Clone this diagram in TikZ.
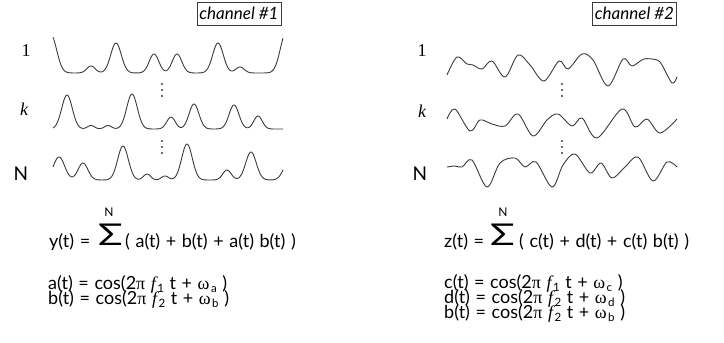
\documentclass[tikz,border=0pt]{standalone}
\usepackage{fontspec}
\setmainfont{Lato}
\newfontfamily\serifx{Liberation Serif}
\definecolor{ink}{HTML}{3A3A3A}
\newcommand{\eqfont}{\fontsize{18}{18}\selectfont\spaceskip 5.6pt plus 1pt\relax}
\begin{document}
\begin{tikzpicture}[x=1pt,y=-1pt,
  declare function={g(\x,\c,\w)=exp(-min(((\x-\c)/\w)^2,9));},
  wave/.style={draw=ink,line width=0.9pt,line join=round},
  chanbox/.style={draw=ink,line width=0.7pt,inner sep=0pt,minimum width=84pt,minimum height=23pt,font=\fontsize{17}{17}\selectfont\itshape},
  rowlab/.style={font=\serifx\fontsize{18}{18}\selectfont},
  nlab/.style={font=\fontsize{19}{19}\selectfont},
  eq/.style={anchor=base west,inner sep=0pt,font=\eqfont},
  sig/.style={anchor=base west,inner sep=0pt,font=\fontsize{30}{30}\selectfont},
  sup/.style={inner sep=0pt,font=\fontsize{12}{12}\selectfont}]
\useasboundingbox (0,0) rectangle (724,343);
\newcommand{\gr}[1]{{\serifx #1}}
\newcommand{\sbx}[1]{\kern1.5pt\lower3.8pt\hbox{\fontsize{11.5}{11.5}\selectfont #1}}
\newcommand{\fx}{{\serifx\itshape f}}
% channel boxes
\node[chanbox] (ch1) at (239,13.5) {channel \#1};
\node[chanbox] (ch2) at (634.5,13.5) {channel \#2};
% row labels
\node[rowlab] (l1) at (26,51) {1};
\node[rowlab,font=\serifx\itshape\fontsize{18}{18}\selectfont] (lk) at (24,109) {k};
\node[nlab] (lN) at (21,174) {N};
\node[rowlab] (r1) at (422,51) {1};
\node[rowlab,font=\serifx\itshape\fontsize{18}{18}\selectfont] (rk) at (422,111) {k};
\node[nlab] (rN) at (420,174) {N};
% channel 1 waves
\draw[wave] plot[domain=53:283,samples=231] (\x,{73-38*g(\x,51,8)-7*g(\x,91,6)-30*g(\x,116,7.5)-19*g(\x,154,6.8)-19*g(\x,177,6.8)-30*g(\x,218,7.5)-6*g(\x,240,6)-40*g(\x,286,8)});
\draw[wave] plot[domain=53:283,samples=231] (\x,{129-34*g(\x,67,7.5)-3.5*g(\x,91,5)-3.5*g(\x,108,5)-35*g(\x,132,7.5)-12*g(\x,171,6)-25*g(\x,194,7)-24*g(\x,234,7)-13*g(\x,258,6)});
\draw[wave] plot[domain=53:283,samples=231] (\x,{180-23*g(\x,59,8)-17*g(\x,83,7)-34*g(\x,123,7.5)-6*g(\x,147,5)-4*g(\x,165,5)-36*g(\x,187,7.5)-10*g(\x,227,6)-28*g(\x,251,7.5)-22*g(\x,290,8)});
% channel 2 waves
\draw[wave] plot[smooth,tension=0.55] coordinates {(447,75) (457,57) (467,64) (473,65) (482,69) (492,61) (505,77) (518,55) (530,65) (544,81) (559,61) (568,69) (582,54) (593,60) (608,86) (623,59) (632,66) (644,59) (657,60) (662,65) (672,83) (677,77)};
\draw[wave] plot[smooth,tension=0.55] coordinates {(447,119) (455,109) (470,131) (480,120) (492,124) (505,126) (518,114) (533,136) (547,120) (558,114) (572,126) (582,118) (597,138) (622,109) (635,127) (647,119) (660,133) (677,119)};
\draw[wave] plot[smooth,tension=0.55] coordinates {(447,167) (455,166) (462,167) (472,160) (487,187) (500,163) (515,158) (525,167) (536,162) (552,187) (563,165) (575,154) (590,173) (601,163) (612,178) (625,167) (638,157) (653,181) (667,162) (677,167)};
% vertical dots
\foreach \px in {162,562}{
  \foreach \py in {84,90,96,141,147,153}{
    \fill[ink] (\px,\py) circle (1.1pt);
  }
}
% left equations
\node[eq] (y1) at (49,247) {y(t) =};
\node[sig] (s1) at (98,245) {\scalebox{1.35}[1]{Σ}};
\node[sup] (n1) at (109,212.5) {N};
\node[eq] (y2) at (125,247) {( a(t) + b(t) + a(t) b(t) )};
\node[eq] (a1) at (48,289) {a(t) = cos(2\gr{π} \fx\sbx{1} t + \gr{ω}\sbx{a} )};
\node[eq] (b1) at (48,304) {b(t) = cos(2\gr{π} \fx\sbx{2} t + \gr{ω}\sbx{b} )};
% right equations
\node[eq] (z1) at (444,247) {z(t) =};
\node[sig] (s2) at (490,245) {\scalebox{1.35}[1]{Σ}};
\node[sup] (n2) at (503,212.5) {N};
\node[eq] (z2) at (519,247) {( c(t) + d(t) + c(t) b(t) )};
\node[eq] (c1) at (444,288) {c(t) = cos(2\gr{π} \fx\sbx{1} t + \gr{ω}\sbx{c} )};
\node[eq] (d1) at (444,303) {d(t) = cos(2\gr{π} \fx\sbx{2} t + \gr{ω}\sbx{d} )};
\node[eq] (b2) at (444,318) {b(t) = cos(2\gr{π} \fx\sbx{2} t + \gr{ω}\sbx{b} )};
\end{tikzpicture}
\end{document}
